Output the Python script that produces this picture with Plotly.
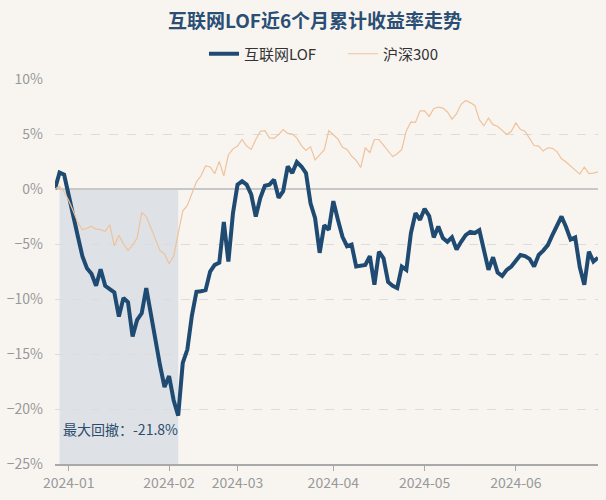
import pandas as pd
import plotly.graph_objects as go

# ---- categories: trading days (2023-12-27 .. 2024-06-28) ----
holidays = ["2024-01-01", "2024-02-09", "2024-02-12", "2024-02-13", "2024-02-14",
            "2024-02-15", "2024-02-16", "2024-04-04", "2024-04-05", "2024-05-01",
            "2024-05-02", "2024-05-03", "2024-06-10"]
dates = [d.strftime("%Y-%m-%d") for d in pd.bdate_range("2023-12-27", "2024-06-28")
         if d.strftime("%Y-%m-%d") not in holidays]

tick_dates = ["2024-01-02", "2024-02-01", "2024-03-01", "2024-04-01", "2024-05-06", "2024-06-03"]
tick_labels = ["2024-01", "2024-02", "2024-03", "2024-04", "2024-05", "2024-06"]

# ---- series values (%) ----
fund = [0, 1.5, 1.3, -0.7, -2.5, -4.3, -6.1, -7.2, -7.7, -8.8,
        -7.3, -8.8, -9.1, -9.4, -11.6, -9.9, -10.3, -13.4, -11.9, -11.3,
        -9.0, -11.5, -13.5, -16.0, -18.0, -17.0, -19.2, -20.6, -15.8, -14.6,
        -11.5, -9.35, -9.3, -9.2, -7.5, -6.9, -6.7, -3.0, -6.6, -2.2,
        0.4, 0.7, 0.4, -0.5, -2.5, -0.8, 0.3, 0.4, 0.85, -0.8,
        -0.2, 2.05, 1.45, 2.45, 2.05, 1.45, -1.3, -2.65, -5.8, -3.3,
        -3.7, -1.1, -2.8, -4.35, -5.2, -5.05, -7.05, -7.0, -6.9, -6.1,
        -8.7, -5.7, -6.3, -8.45, -8.8, -9.0, -7.05, -7.35, -4.0, -2.2,
        -2.8, -1.8, -2.45, -4.4, -3.4, -4.45, -4.8, -4.4, -5.5, -4.8,
        -4.2, -3.9, -4.0, -3.75, -5.4, -7.35, -6.2, -7.6, -7.9, -7.35,
        -7.05, -6.45, -6.0, -6.1, -6.35, -7.05, -6.0, -5.6, -5.1, -4.2,
        -3.3, -2.5, -3.45, -4.6, -4.4, -7.1, -8.7, -5.7, -6.6, -6.25]

hs300 = [0, 0.25, -0.25, -1.05, -2.0, -3.05, -3.7, -3.55, -3.4, -3.65,
         -3.7, -3.85, -3.25, -5.15, -4.2, -5.0, -5.6, -5.1, -4.45, -2.15,
         -2.5, -3.5, -4.6, -5.6, -5.9, -6.8, -6.1, -3.9, -2.0, -1.5,
         -0.5, 0.65, 1.2, 2.1, 2.0, 1.4, 2.5, 1.2, 3.1, 3.65,
         3.9, 4.5, 3.9, 3.6, 4.5, 5.25, 5.3, 4.65, 4.6, 4.95,
         5.4, 5.05, 5.0, 4.65, 3.95, 3.5, 3.85, 2.65, 3.1, 3.55,
         5.3, 4.95, 4.55, 3.8, 3.6, 3.0, 2.6, 1.95, 3.75, 3.3,
         4.5, 4.5, 3.95, 3.4, 2.95, 3.2, 3.6, 5.3, 6.1, 6.05,
         7.1, 7.1, 6.6, 7.3, 7.45, 7.35, 7.0, 6.35, 6.85, 7.7,
         8.05, 7.85, 7.6, 6.3, 5.75, 6.45, 5.85, 5.7, 5.3, 4.95,
         5.25, 6.0, 5.4, 5.25, 4.6, 3.95, 3.9, 3.45, 3.75, 3.7,
         3.4, 2.75, 2.45, 2.1, 1.75, 1.35, 2.0, 1.4, 1.45, 1.55]

max_dd_text = "最大回撤：-21.8%"
title_text = "互联网LOF近6个月累计收益率走势"

# drawdown window: from the peak to the trough of the fund
trough_idx = min(range(len(fund)), key=lambda i: fund[i])
peak_idx = max(range(trough_idx + 1), key=lambda i: fund[i])

FONT = "Noto Sans CJK SC, Noto Sans, sans-serif"
BG = "#f8f5f1"
BLUE = "#1f4a72"
ORANGE = "#f0c29a"

fig = go.Figure()
fig.add_trace(go.Scatter(x=dates, y=fund, mode="lines", name="互联网LOF",
                         line=dict(color=BLUE, width=4)))
fig.add_trace(go.Scatter(x=dates, y=hs300, mode="lines", name="沪深300",
                         line=dict(color=ORANGE, width=1.2)))

# max drawdown shaded region
fig.add_shape(type="rect", xref="x", yref="y",
              x0=dates[peak_idx], x1=dates[trough_idx], y0=-25, y1=0,
              fillcolor="rgba(175,192,208,0.35)", line=dict(width=0), layer="below")

fig.add_annotation(x=dates[peak_idx], y=-21.8, xref="x", yref="y",
                   text=max_dd_text, showarrow=False, xanchor="left", yanchor="middle",
                   xshift=1, font=dict(size=14, color="#2d4d6e", family=FONT))

fig.update_layout(
    width=606, height=500,
    paper_bgcolor=BG, plot_bgcolor=BG,
    margin=dict(l=55, r=8, t=79, b=36, autoexpand=False),
    font=dict(family=FONT, color="#999999"),
    title=dict(text="<b>" + title_text + "</b>", x=315 / 606, xanchor="center",
               xref="container", y=1 - 21.5 / 500, yanchor="middle", yref="container",
               font=dict(size=19, color="#2a4e74", family=FONT)),
    showlegend=True,
    legend=dict(orientation="h", x=204 / 606, xref="container", xanchor="left",
                y=1 - 54 / 500, yref="container", yanchor="middle",
                entrywidth=94, entrywidthmode="pixels",
                font=dict(size=15, color="#333333", family=FONT),
                bgcolor="rgba(0,0,0,0)"),
    xaxis=dict(type="category", range=[0, len(dates) - 1],
               tickmode="array", tickvals=tick_dates, ticktext=tick_labels,
               showgrid=False, showline=True, linecolor="#a9a9a9", linewidth=1.5,
               ticks="outside", ticklen=5, tickcolor="#a9a9a9",
               tickfont=dict(size=14, color="#999999", family=FONT)),
    yaxis=dict(range=[-25, 10], dtick=5, ticksuffix="%",
               showgrid=True, gridcolor="#dcdcdc", griddash="dash", gridwidth=1,
               zeroline=True, zerolinecolor="#c8c8c8", zerolinewidth=2,
               showline=False, ticks="", ticklabelstandoff=11,
               tickfont=dict(size=14, color="#999999", family=FONT)),
)

fig.write_html("out.html", config={"displayModeBar": False},
               post_script="document.body.style.margin='0';document.body.style.background='%s';" % BG)
